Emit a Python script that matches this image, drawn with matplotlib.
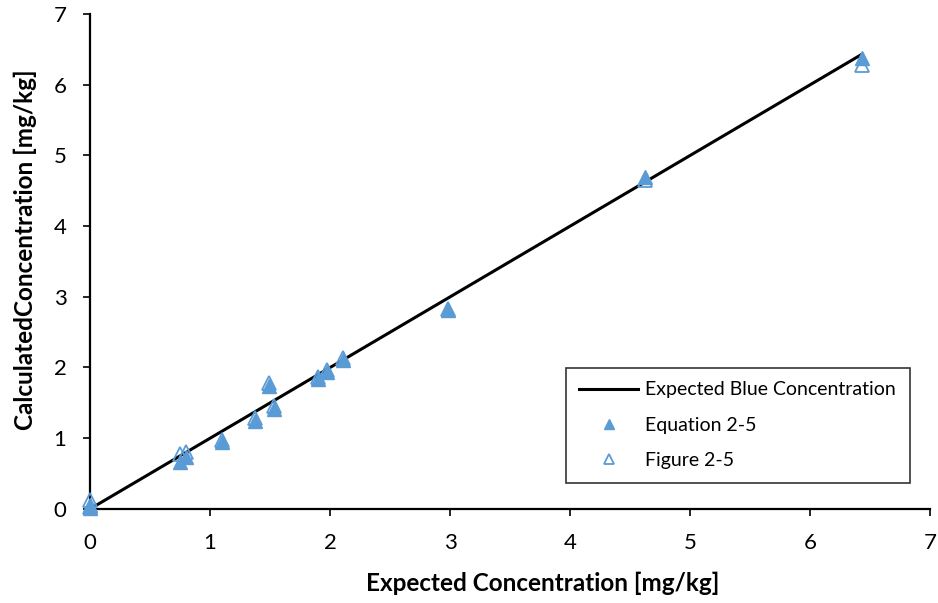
import matplotlib
matplotlib.use("Agg")
import matplotlib.pyplot as plt

plt.rcParams['font.family'] = ['Lato', 'DejaVu Sans']

# expected vs calculated concentrations [mg/kg]
expected = [0.0, 0.0, 0.75, 0.80, 1.10, 1.37, 1.49, 1.53, 1.90, 1.97, 2.11, 2.98, 4.62, 6.43]
eq_2_5 = [0.02, 0.05, 0.67, 0.74, 0.94, 1.25, 1.74, 1.42, 1.84, 1.94, 2.11, 2.81, 4.70, 6.38]
fig_2_5 = [0.03, 0.12, 0.77, 0.80, 0.98, 1.28, 1.78, 1.46, 1.86, 1.96, 2.14, 2.82, 4.65, 6.28]
line_x = [0.0, 6.43]
line_y = [0.0, 6.43]

blue = '#5B9BD5'

fig = plt.figure(figsize=(9.38, 6.03), dpi=100)
ax = fig.add_axes([0.096, 0.156, 0.896, 0.821])

ax.plot(line_x, line_y, color='black', lw=2.2, label='Expected Blue Concentration', zorder=2)
ax.plot(expected, eq_2_5, '^', ms=10.5, color=blue, mec=blue, ls='none', label='Equation 2-5',
        zorder=3, clip_on=False)
ax.plot(expected, fig_2_5, '^', ms=10.5, mfc='none', mec=blue, mew=1.3, ls='none', label='Figure 2-5',
        zorder=4, clip_on=False)

ax.set_xlim(0, 7)
ax.set_ylim(0, 7)
ax.set_xticks(range(8))
ax.set_yticks(range(8))
ax.tick_params(labelsize=16, length=5, width=1.2, direction='out', pad=12)
ax.spines['top'].set_visible(False)
ax.spines['right'].set_visible(False)
ax.spines['left'].set_linewidth(1.6)
ax.spines['bottom'].set_linewidth(1.6)

ax.set_xlabel('Expected Concentration [mg/kg]', fontsize=17.5, fontweight='bold')
ax.set_ylabel('CalculatedConcentration [mg/kg]', fontsize=17.5, fontweight='bold')
ax.xaxis.set_label_coords(0.539, -0.127)
ax.yaxis.set_label_coords(-0.063, 0.523)

leg = ax.legend(loc='lower right', bbox_to_anchor=(0.987, 0.033), fontsize=14, frameon=True,
                fancybox=False, edgecolor='black', handlelength=3.0, handletextpad=0.4,
                borderpad=0.7, labelspacing=0.95, markerscale=0.65)
leg.get_frame().set_linewidth(1.2)

fig.savefig('out.png', dpi=100)
